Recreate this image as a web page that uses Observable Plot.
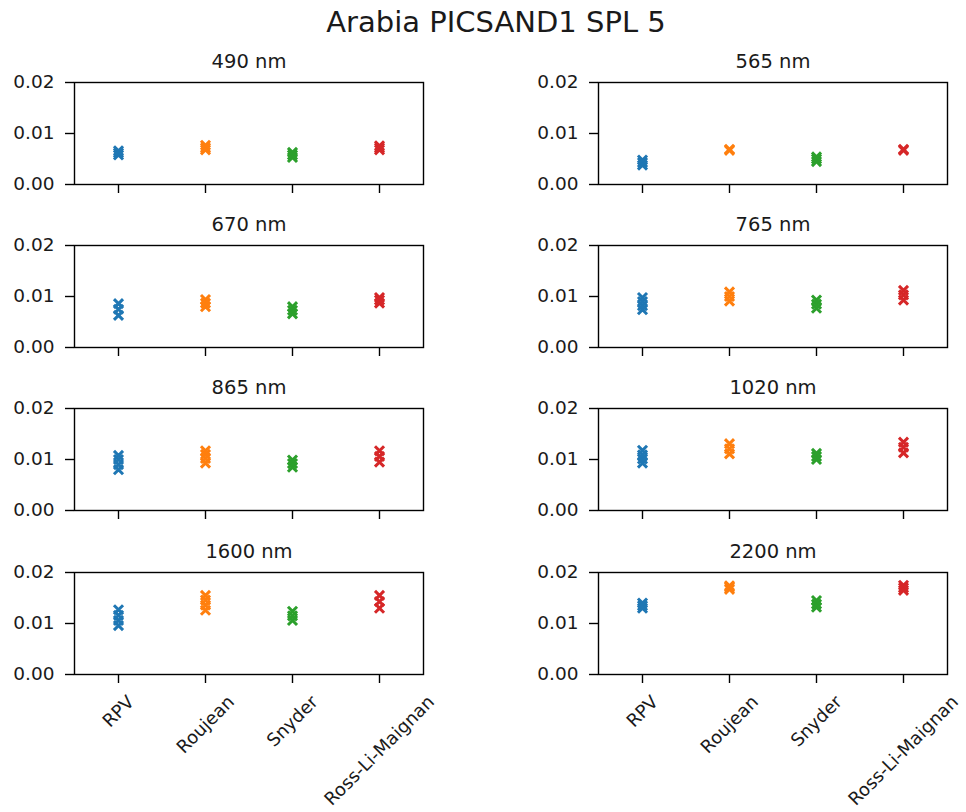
<!DOCTYPE html>
<html>
<head>
<meta charset="utf-8">
<script src="https://cdn.jsdelivr.net/npm/d3@7"></script>
<script src="https://cdn.jsdelivr.net/npm/@observablehq/plot@0.6"></script>
<style>
  html, body { margin: 0; padding: 0; background: #fff; }
  #root { position: relative; width: 966px; height: 812px; background: #fff; overflow: hidden; font-family: "DejaVu Sans", sans-serif; color: #1a1a1a; }
  #suptitle { position: absolute; left: 0; width: 992px; top: 5px; text-align: center; font-size: 29px; line-height: 34px; }
  .panel { position: absolute; }
</style>
</head>
<body>
<div id="root"><div id="suptitle">Arabia PICSAND1 SPL 5</div></div>
<script>
const figureTitle = "Arabia PICSAND1 SPL 5";
const models = ["RPV", "Roujean", "Snyder", "Ross-Li-Maignan"];
const modelColors = ["#1f77b4", "#ff7f0e", "#2ca02c", "#d62728"];
const wavelengths = ["490 nm", "565 nm", "670 nm", "765 nm", "865 nm", "1020 nm", "1600 nm", "2200 nm"];
const yTicks = [0, 0.01, 0.02];

// values per wavelength (same order as wavelengths)
const rpvValues = [
  [0.0058, 0.0062, 0.0066],
  [0.0038, 0.0043, 0.0048],
  [0.0063, 0.0075, 0.0086],
  [0.0074, 0.0082, 0.0090, 0.0098],
  [0.0080, 0.0090, 0.0100, 0.0108],
  [0.0093, 0.0101, 0.0109, 0.0118],
  [0.0096, 0.0106, 0.0116, 0.0127],
  [0.0130, 0.0135, 0.0140]
];
const roujeanValues = [
  [0.0068, 0.0072, 0.0077],
  [0.0067, 0.0069],
  [0.0080, 0.0087, 0.0094],
  [0.0091, 0.0100, 0.0109],
  [0.0093, 0.0102, 0.0110, 0.0117],
  [0.0111, 0.0121, 0.0131],
  [0.0126, 0.0136, 0.0146, 0.0155],
  [0.0167, 0.0171, 0.0174]
];
const snyderValues = [
  [0.0053, 0.0058, 0.0063],
  [0.0045, 0.0050, 0.0054],
  [0.0066, 0.0073, 0.0080],
  [0.0077, 0.0085, 0.0093],
  [0.0085, 0.0092, 0.0099],
  [0.0100, 0.0106, 0.0112],
  [0.0106, 0.0115, 0.0124],
  [0.0132, 0.0138, 0.0145]
];
const rossValues = [
  [0.0068, 0.0072, 0.0076],
  [0.0067, 0.0069],
  [0.0087, 0.0093, 0.0098],
  [0.0093, 0.0103, 0.0112],
  [0.0095, 0.0106, 0.0117],
  [0.0113, 0.0124, 0.0134],
  [0.0130, 0.0143, 0.0155],
  [0.0165, 0.0170, 0.0175]
];

const seriesByModel = [rpvValues, roujeanValues, snyderValues, rossValues];

const root = document.getElementById("root");
document.getElementById("suptitle").textContent = figureTitle;

const FS = 18.5;
const XFS = 18;
const TEXT = "#1a1a1a";
const canvas = document.createElement("canvas");
const ctx = canvas.getContext("2d");
ctx.font = `${XFS}px "DejaVu Sans"`;
function textW(s) { return ctx.measureText(s).width; }

const colLeft = [0, 524];
const frameTops = [82, 245, 408, 572];
const mLeft = 74, plotW = 349, plotH = 102, mTop = 40;
const tickLen = 9, tickPad = 11;

wavelengths.forEach((wl, i) => {
  const row = Math.floor(i / 2), col = i % 2;
  const bottomRow = row === 3;
  const mBottom = bottomRow ? 812 - (frameTops[row] + plotH) : 30;
  const mRight = col === 0 ? 20 : 19;
  const data = [];
  models.forEach((m, k) => {
    seriesByModel[k][i].forEach(v => data.push({model: m, value: v}));
  });
  const marks = [
    Plot.axisY({ticks: yTicks, tickFormat: d => d.toFixed(2), tickSize: tickLen, tickPadding: tickPad, fontSize: FS, strokeWidth: 1.4, fill: TEXT}),
    Plot.axisX({ticks: models, tickSize: tickLen, tickFormat: () => "", strokeWidth: 1.4, label: null}),
    Plot.dot(data, {x: "model", y: "value", symbol: "times", stroke: "model", r: 4.2, strokeWidth: 3}),
    Plot.frame({stroke: "black", strokeWidth: 1.4}),
    Plot.text([wl], {frameAnchor: "top", dy: -15, lineAnchor: "bottom", text: d => d, fontSize: 19.5, fill: TEXT})
  ];
  if (bottomRow) {
    models.forEach(m => {
      const w = textW(m), h = XFS * 1.164;
      marks.push(Plot.text([m], {
        x: d => d, frameAnchor: "bottom", rotate: -45, textAnchor: "middle", lineAnchor: "middle",
        dy: tickLen + 8 + 0.354 * (w + h), text: d => d, fontSize: XFS, fill: TEXT
      }));
    });
  }
  const svg = Plot.plot({
    width: mLeft + plotW + mRight,
    height: mTop + plotH + mBottom,
    marginLeft: mLeft, marginRight: mRight, marginTop: mTop, marginBottom: mBottom,
    style: {background: "transparent", fontFamily: "DejaVu Sans", color: "black", overflow: "visible"},
    x: {type: "point", domain: models, padding: 0.5, label: null},
    y: {domain: [0, 0.02], label: null},
    color: {domain: models, range: modelColors},
    marks
  });
  svg.classList.add("panel");
  svg.style.left = colLeft[col] + "px";
  svg.style.top = (frameTops[row] - mTop) + "px";
  root.appendChild(svg);
});
</script>
</body>
</html>
